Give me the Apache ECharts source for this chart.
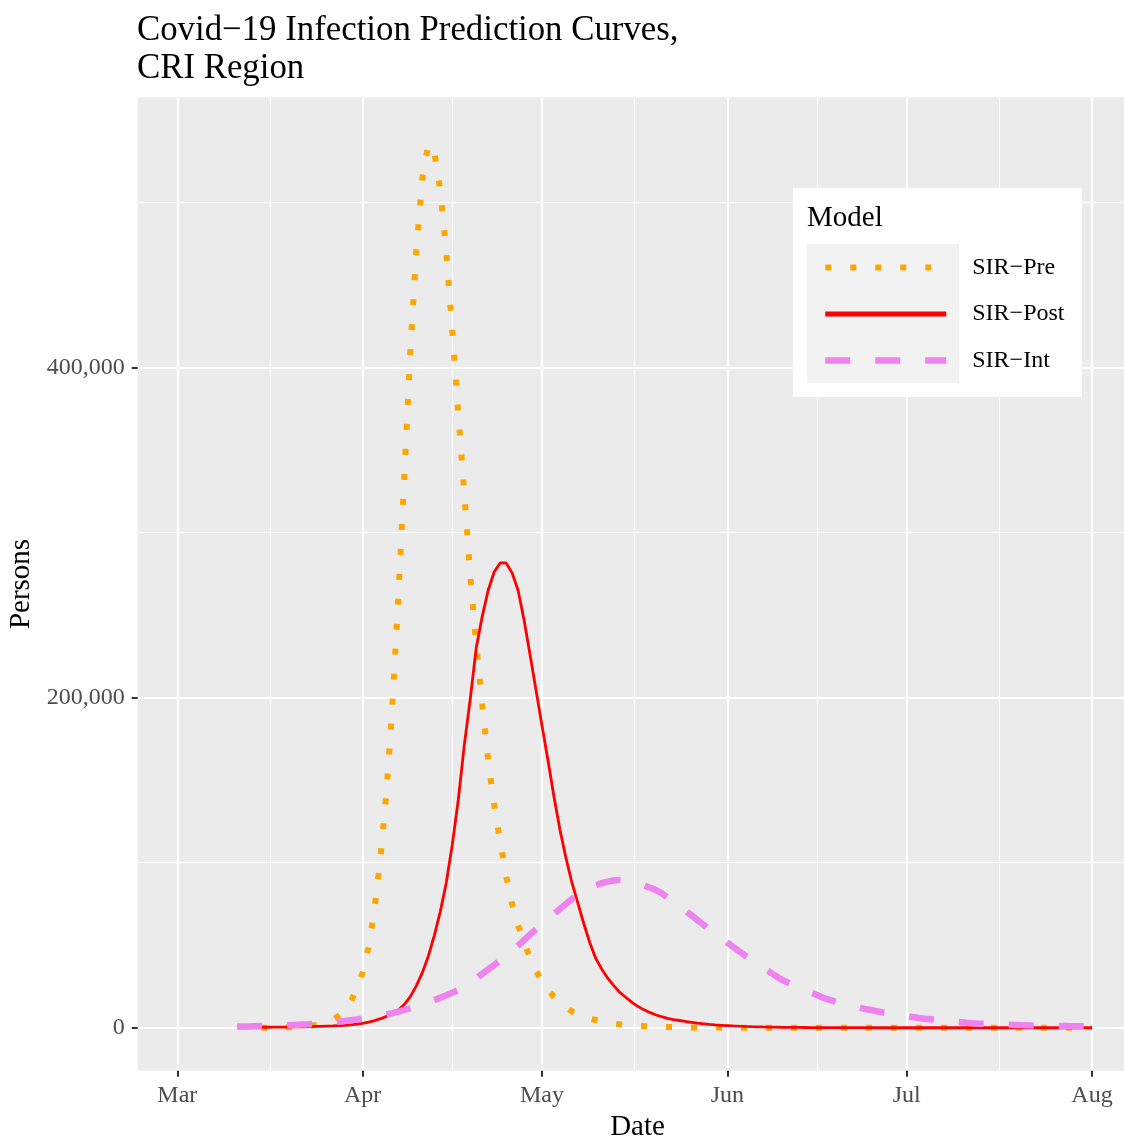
<!DOCTYPE html>
<html>
<head>
<meta charset="utf-8">
<title>Covid−19 Infection Prediction Curves, CRI Region</title>
<script src="https://cdn.jsdelivr.net/npm/echarts@6/dist/echarts.min.js"></script>
<style>
  html, body { margin: 0; padding: 0; background: #fff; }
  #chart { width: 1124px; height: 1139px; }
</style>
</head>
<body>
<div id="chart"></div>
<script>
const FONT = '"Liberation Serif", "Times New Roman", serif';

// model output is daily, from 11 Mar 2020 to 1 Aug 2020 (144 days)
const firstDay = '2020-03-11';
const dayCount = 144;

// infected persons, in thousands; null = no output for that day
const preValues = [
  null, null, null, null,
  0.05, 0.08, 0.12, 0.17, 0.25, 0.35, 0.5, 0.75, 1.1, 1.6,
  2.3, 3.3, 4.8, 7.3, 10.5, 15.5, 23.5, 33.5, 49, 72,
  104, 143, 197, 263, 336, 411, 472, 515, 535, 530,
  507, 469, 422, 372, 324, 274, 232, 196, 162, 135,
  113, 92, 75, 62, 51.5, 42.5, 34.5, 28, 23, 18.8,
  15.5, 12.5, 9.9, 8, 6.5, 5.5, 4.7, 3.8, 3.1, 2.5,
  2.1, 1.8, 1.5, 1.2, 1.0, 0.8, 0.65, 0.55, 0.45, 0.38,
  0.32, 0.27, 0.22, 0.18, 0.15, 0.12, 0.1, 0.08, 0.07, 0.06,
  0.05, 0.04, 0.03, 0.03, 0.02, 0.02, 0.02, 0.01, 0.01, 0.01,
  0, 0, 0, 0, 0, 0, 0, 0, 0, 0,
  0, 0, 0, 0, 0, 0, 0, 0, 0, 0,
  0, 0, 0, 0, 0, 0, 0, 0, 0, 0,
  0, 0, 0, 0, 0, 0, 0, 0, 0, 0,
  0, 0, 0, 0, 0, 0, 0, 0, 0, 0
];
const postValues = [
  null, null, null, null,
  0.3, 0.3, 0.35, 0.4, 0.45, 0.5, 0.55, 0.6, 0.7, 0.8,
  0.9, 1.0, 1.1, 1.3, 1.5, 1.8, 2.2, 2.7, 3.4, 4.3,
  5.5, 6.9, 8.6, 10.9, 14.2, 19, 25.5, 33.5, 43.5, 56,
  70.5, 88, 111, 138, 171, 199, 230, 249, 265, 276,
  281.5, 281.5, 275.5, 265, 247, 226, 204.5, 183, 162, 140,
  120, 103, 88, 75.5, 63, 51.5, 42, 35.5, 30, 25.5,
  21.5, 18.5, 15.5, 13, 11, 9.3, 7.9, 6.7, 5.7, 5.0,
  4.4, 3.8, 3.3, 2.8, 2.4, 2.0, 1.7, 1.5, 1.3, 1.1,
  0.95, 0.82, 0.7, 0.6, 0.52, 0.45, 0.38, 0.32, 0.27, 0.23,
  0.2, 0.17, 0.14, 0.12, 0.1, 0.08, 0.07, 0.06, 0.05, 0.04,
  0.04, 0.03, 0.03, 0.02, 0.02, 0.02, 0.01, 0.01, 0.01, 0.01,
  0, 0, 0, 0, 0, 0, 0, 0, 0, 0,
  0, 0, 0, 0, 0, 0, 0, 0, 0, 0,
  0, 0, 0, 0, 0, 0, 0, 0, 0, 0
];
const intValues = [
  0.7, 0.75, 0.8, 0.9, 1.0, 1.1, 1.2, 1.35, 1.5, 1.65,
  1.8, 2.0, 2.2, 2.45, 2.7, 3.0, 3.3, 3.7, 4.1, 4.6,
  5.0, 5.5, 6.1, 6.7, 7.4, 8.1, 8.9, 9.8, 10.8, 11.9,
  13.0, 14.2, 15.5, 16.8, 18.2, 19.7, 21.2, 22.9, 24.9, 27.2,
  29.8, 32.7, 35.3, 38.0, 40.8, 43.7, 46.7, 49.8, 53.1, 56.4,
  59.6, 62.8, 65.9, 68.9, 72.0, 75.0, 78.0, 80.6, 82.9, 84.8,
  86.4, 87.6, 88.5, 89.2, 89.5, 89.3, 88.6, 87.6, 86.3, 84.9,
  83.5, 81.5, 79.0, 76.4, 73.7, 70.9, 68.1, 65.2, 62.4, 59.6,
  56.9, 54.2, 51.5, 48.9, 46.3, 43.7, 41.2, 38.7, 36.3, 34.0,
  31.6, 29.3, 27.6, 25.9, 24.3, 22.8, 21.3, 19.9, 18.2, 17.0,
  15.9, 14.9, 14.0, 13.1, 12.2, 11.4, 10.8, 10.0, 9.3, 8.7,
  8.1, 7.5, 7.0, 6.5, 5.9, 5.5, 5.1, 4.7, 4.4, 4.0,
  3.7, 3.4, 3.0, 2.7, 2.5, 2.4, 2.2, 2.1, 2.0, 1.8,
  1.7, 1.6, 1.5, 1.4, 1.35, 1.3, 1.2, 1.15, 1.1, 1.0,
  0.95, 0.9, 0.85, 0.8
];

const seriesNames = ['SIR−Pre', 'SIR−Post', 'SIR−Int'];

// axis ticks
const xTickDates = ['2020-03-01', '2020-04-01', '2020-05-01', '2020-06-01', '2020-07-01', '2020-08-01'];
const xTickLabels = ['Mar', 'Apr', 'May', 'Jun', 'Jul', 'Aug'];
const xMinorDates = ['2020-03-16T12:00', '2020-04-16T00:00', '2020-05-16T12:00', '2020-06-16T00:00', '2020-07-16T12:00'];
const yTickValues = [0, 200, 400];
const yTickLabels = ['0', '200,000', '400,000'];
const yMinorValues = [100, 300, 500];

const DAY = 86400000;
const utc = (s) => Date.parse((s.length === 10 ? s + 'T00:00' : s) + 'Z');

const start = utc(firstDay);
const days = [];
for (let i = 0; i < dayCount; i++) days.push(start + i * DAY);

const toPairs = (values) => {
  const out = [];
  values.forEach((v, i) => { if (v !== null) out.push([days[i], v]); });
  return out;
};

const xTicks = xTickDates.map(utc);
const xMinor = xMinorDates.map(utc);
// panel runs a little past the right edge of the picture
const xMin = xTicks[0] - 6.62 * DAY;
const xMax = xTicks[xTicks.length - 1] + 7.59 * DAY;

const chart = echarts.init(document.getElementById('chart'));

const tickLabelStyle = { color: '#4D4D4D', fontSize: 24, fontFamily: FONT };

const option = {
  animation: false,
  backgroundColor: '#ffffff',
  textStyle: { fontFamily: FONT },
  title: {
    text: 'Covid−19 Infection Prediction Curves,\nCRI Region',
    left: 137,
    top: 11.5,
    padding: 0,
    textStyle: { fontFamily: FONT, fontSize: 34.8, fontWeight: 'normal', color: '#000', lineHeight: 38 },
  },
  grid: {
    left: 137.7,
    right: -13.4,
    top: 97.3,
    bottom: 68.3,
    outerBoundsMode: 'none',
    show: true,
    backgroundColor: '#EBEBEB',
    borderWidth: 0,
  },
  graphic: [
    { type: 'rect', left: 793, top: 188, z: 3, shape: { width: 289, height: 209 }, style: { fill: '#ffffff' } },
    { type: 'rect', left: 807, top: 244, z: 4, shape: { width: 152, height: 139 }, style: { fill: '#F2F2F2' } },
    { type: 'text', left: 807, top: 204, z: 5, style: { text: 'Model', font: '29px ' + FONT, fill: '#000' } },
  ],
  legend: {
    data: [
      { name: seriesNames[0] },
      { name: seriesNames[1], lineStyle: { width: 5 } },
      { name: seriesNames[2] },
    ],
    orient: 'vertical',
    left: 822,
    top: 254.5,
    padding: 0,
    itemWidth: 121,
    itemHeight: 26,
    itemGap: 20.5,
    selectedMode: false,
    z: 6,
    itemStyle: { color: 'rgba(0,0,0,0)', borderWidth: 0, opacity: 0 },
    lineStyle: { width: 'inherit' },
    textStyle: { fontFamily: FONT, fontSize: 24, color: '#000', lineHeight: 26, padding: [0, 0, 0, 21] },
  },
  xAxis: [
    {
      type: 'value',
      min: xMin,
      max: xMax,
      position: 'bottom',
      axisLine: { show: false, onZero: false },
      axisTick: { show: true, customValues: xTicks, length: 6, lineStyle: { color: '#333333', width: 2 } },
      axisLabel: {
        customValues: xTicks,
        margin: 13,
        ...tickLabelStyle,
        formatter: (v) => {
          const i = xTicks.findIndex((t) => Math.abs(t - v) < DAY / 2);
          return i >= 0 ? xTickLabels[i] : '';
        },
      },
      splitLine: { show: true, lineStyle: { color: '#ffffff', width: 2 } },
      name: 'Date',
      nameLocation: 'middle',
      nameGap: 34,
      nameTextStyle: { fontFamily: FONT, fontSize: 29, color: '#000' },
    },
    {
      type: 'value',
      min: xMin,
      max: xMax,
      position: 'top',
      axisLine: { show: false, onZero: false },
      axisTick: { show: false, customValues: xMinor },
      axisLabel: { show: false },
      splitLine: { show: true, lineStyle: { color: '#ffffff', width: 1 } },
    },
  ],
  yAxis: [
    {
      type: 'value',
      min: -26,
      max: 563.5,
      axisLine: { show: false, onZero: false },
      axisTick: { show: true, customValues: yTickValues, length: 6, lineStyle: { color: '#333333', width: 2 } },
      axisLabel: {
        customValues: yTickValues,
        margin: 13,
        ...tickLabelStyle,
        formatter: (v) => {
          const i = yTickValues.indexOf(v);
          return i >= 0 ? yTickLabels[i] : '';
        },
      },
      splitLine: { show: true, lineStyle: { color: '#ffffff', width: 2 } },
      name: 'Persons',
      nameLocation: 'middle',
      nameGap: 97,
      nameTextStyle: { fontFamily: FONT, fontSize: 29, color: '#000' },
    },
    {
      type: 'value',
      min: -26,
      max: 563.5,
      position: 'right',
      axisLine: { show: false, onZero: false },
      axisTick: { show: false, customValues: yMinorValues },
      axisLabel: { show: false },
      splitLine: { show: true, lineStyle: { color: '#ffffff', width: 1 } },
    },
  ],
  series: [
    {
      name: seriesNames[0],
      type: 'line',
      data: toPairs(preValues),
      symbol: 'none',
      showSymbol: false,
      itemStyle: { color: '#FFA500' },
      lineStyle: { color: '#FFA500', width: 6, type: [6, 19], cap: 'butt' },
      emphasis: { disabled: true },
    },
    {
      name: seriesNames[1],
      type: 'line',
      data: toPairs(postValues),
      symbol: 'none',
      showSymbol: false,
      itemStyle: { color: '#FF0000' },
      lineStyle: { color: '#FF0000', width: 2.8 },
      emphasis: { disabled: true },
    },
    {
      name: seriesNames[2],
      type: 'line',
      data: toPairs(intValues),
      symbol: 'none',
      showSymbol: false,
      itemStyle: { color: '#EE82EE' },
      lineStyle: { color: '#EE82EE', width: 6.5, type: [25, 25], cap: 'butt' },
      emphasis: { disabled: true },
    },
  ],
};

chart.setOption(option);
window.addEventListener('resize', () => chart.resize());
</script>
</body>
</html>
